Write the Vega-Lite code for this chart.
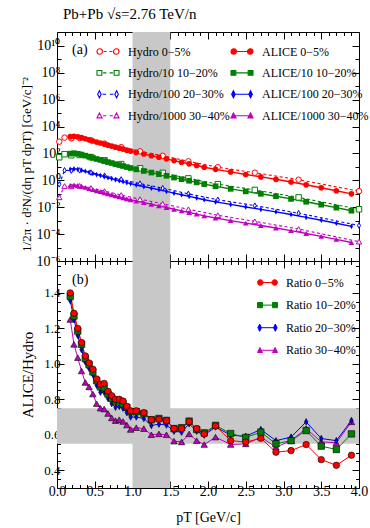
{
  "$schema": "https://vega.github.io/schema/vega-lite/v6.json",
  "padding": {"left": 20, "top": 6, "right": 11, "bottom": 4},
  "title": {"text": "Pb+Pb √s=2.76 TeV/n", "anchor": "start", "font": "Liberation Serif", "fontSize": 15, "fontWeight": "normal", "color": "black", "offset": 10, "dx": 43},
  "spacing": 0,
  "bounds": "flush",
  "datasets": {
    "alice": [
      {"pt":0.175,"c":"30-40%","y":0.427,"r":1.25},{"pt":0.225,"c":"30-40%","y":0.457,"r":1.11},{"pt":0.275,"c":"30-40%","y":0.417,"r":1.035},{"pt":0.325,"c":"30-40%","y":0.363,"r":0.96},{"pt":0.375,"c":"30-40%","y":0.302,"r":0.895},{"pt":0.425,"c":"30-40%","y":0.251,"r":0.87},{"pt":0.475,"c":"30-40%","y":0.204,"r":0.83},{"pt":0.525,"c":"30-40%","y":0.170,"r":0.775},{"pt":0.575,"c":"30-40%","y":0.145,"r":0.75},{"pt":0.625,"c":"30-40%","y":0.120,"r":0.745},
      {"pt":0.675,"c":"30-40%","y":0.100,"r":0.72},{"pt":0.725,"c":"30-40%","y":0.0851,"r":0.695},{"pt":0.775,"c":"30-40%","y":0.0708,"r":0.68},{"pt":0.825,"c":"30-40%","y":0.0603,"r":0.685},{"pt":0.875,"c":"30-40%","y":0.0513,"r":0.675},{"pt":0.925,"c":"30-40%","y":0.0427,"r":0.655},{"pt":0.975,"c":"30-40%","y":0.0363,"r":0.63},{"pt":1.05,"c":"30-40%","y":0.0288,"r":0.64},{"pt":1.15,"c":"30-40%","y":0.0219,"r":0.635},{"pt":1.25,"c":"30-40%","y":0.0166,"r":0.60},
      {"pt":1.35,"c":"30-40%","y":0.0126,"r":0.605},{"pt":1.45,"c":"30-40%","y":0.00955,"r":0.60},{"pt":1.55,"c":"30-40%","y":0.00708,"r":0.564},{"pt":1.65,"c":"30-40%","y":0.00537,"r":0.56},{"pt":1.75,"c":"30-40%","y":0.00407,"r":0.605},{"pt":1.85,"c":"30-40%","y":0.00309,"r":0.567},{"pt":1.95,"c":"30-40%","y":0.00229,"r":0.545},{"pt":2.1,"c":"30-40%","y":0.00158,"r":0.587},{"pt":2.3,"c":"30-40%","y":0.00102,"r":0.545},{"pt":2.5,"c":"30-40%","y":0.000661,"r":0.549},
      {"pt":2.7,"c":"30-40%","y":0.000437,"r":0.587},{"pt":2.9,"c":"30-40%","y":0.000288,"r":0.53},{"pt":3.1,"c":"30-40%","y":0.000182,"r":0.567},{"pt":3.3,"c":"30-40%","y":0.000112,"r":0.635},{"pt":3.5,"c":"30-40%","y":0.0000676,"r":0.56},{"pt":3.7,"c":"30-40%","y":0.0000407,"r":0.555},{"pt":3.9,"c":"30-40%","y":0.0000240,"r":0.673},

      {"pt":0.175,"c":"20-30%","y":6.76,"r":1.357},{"pt":0.225,"c":"20-30%","y":7.24,"r":1.25},{"pt":0.275,"c":"20-30%","y":6.61,"r":1.16},{"pt":0.325,"c":"20-30%","y":5.75,"r":1.08},{"pt":0.375,"c":"20-30%","y":4.79,"r":1.01},{"pt":0.425,"c":"20-30%","y":3.98,"r":0.975},{"pt":0.475,"c":"20-30%","y":3.24,"r":0.94},{"pt":0.525,"c":"20-30%","y":2.69,"r":0.88},{"pt":0.575,"c":"20-30%","y":2.29,"r":0.84},{"pt":0.625,"c":"20-30%","y":1.91,"r":0.84},
      {"pt":0.675,"c":"20-30%","y":1.58,"r":0.805},{"pt":0.725,"c":"20-30%","y":1.35,"r":0.775},{"pt":0.775,"c":"20-30%","y":1.12,"r":0.755},{"pt":0.825,"c":"20-30%","y":0.955,"r":0.76},{"pt":0.875,"c":"20-30%","y":0.813,"r":0.75},{"pt":0.925,"c":"20-30%","y":0.676,"r":0.725},{"pt":0.975,"c":"20-30%","y":0.575,"r":0.70},{"pt":1.05,"c":"20-30%","y":0.457,"r":0.70},{"pt":1.15,"c":"20-30%","y":0.347,"r":0.692},{"pt":1.25,"c":"20-30%","y":0.263,"r":0.652},
      {"pt":1.35,"c":"20-30%","y":0.200,"r":0.66},{"pt":1.45,"c":"20-30%","y":0.151,"r":0.655},{"pt":1.55,"c":"20-30%","y":0.112,"r":0.62},{"pt":1.65,"c":"20-30%","y":0.0851,"r":0.615},{"pt":1.75,"c":"20-30%","y":0.0646,"r":0.662},{"pt":1.85,"c":"20-30%","y":0.0490,"r":0.62},{"pt":1.95,"c":"20-30%","y":0.0363,"r":0.598},{"pt":2.1,"c":"20-30%","y":0.0251,"r":0.644},{"pt":2.3,"c":"20-30%","y":0.0162,"r":0.598},{"pt":2.5,"c":"20-30%","y":0.0105,"r":0.592},
      {"pt":2.7,"c":"20-30%","y":0.00692,"r":0.63},{"pt":2.9,"c":"20-30%","y":0.00457,"r":0.567},{"pt":3.1,"c":"20-30%","y":0.00288,"r":0.587},{"pt":3.3,"c":"20-30%","y":0.00178,"r":0.673},{"pt":3.5,"c":"20-30%","y":0.00107,"r":0.579},{"pt":3.7,"c":"20-30%","y":0.000646,"r":0.567},{"pt":3.9,"c":"20-30%","y":0.000380,"r":0.681},

      {"pt":0.175,"c":"10-20%","y":97.7,"r":1.38},{"pt":0.225,"c":"10-20%","y":105,"r":1.27},{"pt":0.275,"c":"10-20%","y":95.5,"r":1.185},{"pt":0.325,"c":"10-20%","y":83.2,"r":1.11},{"pt":0.375,"c":"10-20%","y":69.2,"r":1.03},{"pt":0.425,"c":"10-20%","y":57.5,"r":0.995},{"pt":0.475,"c":"10-20%","y":46.8,"r":0.955},{"pt":0.525,"c":"10-20%","y":38.9,"r":0.905},{"pt":0.575,"c":"10-20%","y":33.1,"r":0.87},{"pt":0.625,"c":"10-20%","y":27.5,"r":0.865},
      {"pt":0.675,"c":"10-20%","y":22.9,"r":0.83},{"pt":0.725,"c":"10-20%","y":19.5,"r":0.805},{"pt":0.775,"c":"10-20%","y":16.2,"r":0.79},{"pt":0.825,"c":"10-20%","y":13.8,"r":0.785},{"pt":0.875,"c":"10-20%","y":11.7,"r":0.775},{"pt":0.925,"c":"10-20%","y":9.77,"r":0.755},{"pt":0.975,"c":"10-20%","y":8.32,"r":0.73},{"pt":1.05,"c":"10-20%","y":6.61,"r":0.73},{"pt":1.15,"c":"10-20%","y":5.01,"r":0.72},{"pt":1.25,"c":"10-20%","y":3.80,"r":0.685},
      {"pt":1.35,"c":"10-20%","y":2.88,"r":0.692},{"pt":1.45,"c":"10-20%","y":2.19,"r":0.681},{"pt":1.55,"c":"10-20%","y":1.62,"r":0.635},{"pt":1.65,"c":"10-20%","y":1.23,"r":0.64},{"pt":1.75,"c":"10-20%","y":0.933,"r":0.677},{"pt":1.85,"c":"10-20%","y":0.708,"r":0.63},{"pt":1.95,"c":"10-20%","y":0.525,"r":0.611},{"pt":2.1,"c":"10-20%","y":0.363,"r":0.653},{"pt":2.3,"c":"10-20%","y":0.234,"r":0.607},{"pt":2.5,"c":"10-20%","y":0.151,"r":0.585},
      {"pt":2.7,"c":"10-20%","y":0.100,"r":0.615},{"pt":2.9,"c":"10-20%","y":0.0661,"r":0.549},{"pt":3.1,"c":"10-20%","y":0.0417,"r":0.567},{"pt":3.3,"c":"10-20%","y":0.0257,"r":0.624},{"pt":3.5,"c":"10-20%","y":0.0155,"r":0.536},{"pt":3.7,"c":"10-20%","y":0.00933,"r":0.517},{"pt":3.9,"c":"10-20%","y":0.00550,"r":0.605},

      {"pt":0.175,"c":"0-5%","y":1778,"r":1.40},{"pt":0.225,"c":"0-5%","y":1905,"r":1.285},{"pt":0.275,"c":"0-5%","y":1738,"r":1.20},{"pt":0.325,"c":"0-5%","y":1514,"r":1.12},{"pt":0.375,"c":"0-5%","y":1259,"r":1.045},{"pt":0.425,"c":"0-5%","y":1047,"r":1.005},{"pt":0.475,"c":"0-5%","y":851,"r":0.97},{"pt":0.525,"c":"0-5%","y":708,"r":0.915},{"pt":0.575,"c":"0-5%","y":603,"r":0.885},{"pt":0.625,"c":"0-5%","y":501,"r":0.89},
      {"pt":0.675,"c":"0-5%","y":417,"r":0.845},{"pt":0.725,"c":"0-5%","y":355,"r":0.82},{"pt":0.775,"c":"0-5%","y":295,"r":0.80},{"pt":0.825,"c":"0-5%","y":251,"r":0.80},{"pt":0.875,"c":"0-5%","y":214,"r":0.79},{"pt":0.925,"c":"0-5%","y":178,"r":0.76},{"pt":0.975,"c":"0-5%","y":151,"r":0.735},{"pt":1.05,"c":"0-5%","y":120,"r":0.735},{"pt":1.15,"c":"0-5%","y":91.2,"r":0.725},{"pt":1.25,"c":"0-5%","y":69.2,"r":0.685},
      {"pt":1.35,"c":"0-5%","y":52.5,"r":0.688},{"pt":1.45,"c":"0-5%","y":39.8,"r":0.68},{"pt":1.55,"c":"0-5%","y":29.5,"r":0.635},{"pt":1.65,"c":"0-5%","y":22.4,"r":0.635},{"pt":1.75,"c":"0-5%","y":17.0,"r":0.675},{"pt":1.85,"c":"0-5%","y":12.9,"r":0.635},{"pt":1.95,"c":"0-5%","y":9.55,"r":0.605},{"pt":2.1,"c":"0-5%","y":6.61,"r":0.65},{"pt":2.3,"c":"0-5%","y":4.27,"r":0.567},{"pt":2.5,"c":"0-5%","y":2.75,"r":0.559},
      {"pt":2.7,"c":"0-5%","y":1.82,"r":0.58},{"pt":2.9,"c":"0-5%","y":1.20,"r":0.502},{"pt":3.1,"c":"0-5%","y":0.759,"r":0.511},{"pt":3.3,"c":"0-5%","y":0.468,"r":0.545},{"pt":3.5,"c":"0-5%","y":0.282,"r":0.46},{"pt":3.7,"c":"0-5%","y":0.170,"r":0.428},{"pt":3.9,"c":"0-5%","y":0.100,"r":0.485}
    ],
    "hydro": [
      {"pt":0.03,"c":"30-40%","y":0.0550},{"pt":0.1,"c":"30-40%","y":0.380},{"pt":0.19,"c":"30-40%","y":0.363},{"pt":0.3,"c":"30-40%","y":0.389},{"pt":0.45,"c":"30-40%","y":0.269},{"pt":0.63,"c":"30-40%","y":0.158},{"pt":0.85,"c":"30-40%","y":0.0813},{"pt":1.1,"c":"30-40%","y":0.0398},{"pt":1.4,"c":"30-40%","y":0.0182},{"pt":1.74,"c":"30-40%","y":0.00708},{"pt":2.13,"c":"30-40%","y":0.00257},{"pt":2.62,"c":"30-40%","y":0.000891},{"pt":3.2,"c":"30-40%","y":0.000240},{"pt":4.0,"c":"30-40%","y":0.0000275},
      {"pt":0.03,"c":"20-30%","y":0.501},{"pt":0.1,"c":"20-30%","y":5.62},{"pt":0.19,"c":"20-30%","y":5.25},{"pt":0.3,"c":"20-30%","y":5.50},{"pt":0.45,"c":"20-30%","y":3.80},{"pt":0.63,"c":"20-30%","y":2.24},{"pt":0.85,"c":"20-30%","y":1.17},{"pt":1.1,"c":"20-30%","y":0.575},{"pt":1.4,"c":"20-30%","y":0.263},{"pt":1.74,"c":"20-30%","y":0.100},{"pt":2.13,"c":"20-30%","y":0.0363},{"pt":2.62,"c":"20-30%","y":0.0132},{"pt":3.2,"c":"20-30%","y":0.00363},{"pt":4.0,"c":"20-30%","y":0.000437},
      {"pt":0.03,"c":"10-20%","y":52.5},{"pt":0.1,"c":"10-20%","y":89.1},{"pt":0.19,"c":"10-20%","y":74.1},{"pt":0.3,"c":"10-20%","y":77.6},{"pt":0.45,"c":"10-20%","y":53.7},{"pt":0.63,"c":"10-20%","y":30.9},{"pt":0.85,"c":"10-20%","y":16.2},{"pt":1.1,"c":"10-20%","y":7.94},{"pt":1.4,"c":"10-20%","y":3.63},{"pt":1.74,"c":"10-20%","y":1.41},{"pt":2.13,"c":"10-20%","y":0.525},{"pt":2.62,"c":"10-20%","y":0.195},{"pt":3.2,"c":"10-20%","y":0.0537},{"pt":4.0,"c":"10-20%","y":0.00708},
      {"pt":0.03,"c":"0-5%","y":759},{"pt":0.1,"c":"0-5%","y":1514},{"pt":0.19,"c":"0-5%","y":1349},{"pt":0.3,"c":"0-5%","y":1413},{"pt":0.45,"c":"0-5%","y":955},{"pt":0.63,"c":"0-5%","y":550},{"pt":0.85,"c":"0-5%","y":295},{"pt":1.1,"c":"0-5%","y":145},{"pt":1.4,"c":"0-5%","y":67.6},{"pt":1.74,"c":"0-5%","y":26.3},{"pt":2.13,"c":"0-5%","y":9.55},{"pt":2.62,"c":"0-5%","y":3.72},{"pt":3.2,"c":"0-5%","y":1.12},{"pt":4.0,"c":"0-5%","y":0.158}
    ]
  },
  "vconcat": [
    {
      "width": 302,
      "height": 229,
      "layer": [
        {
          "data": {"values": [{"a": 1.0, "b": 1.5}]},
          "mark": {"type": "rect", "color": "#c8c8c8"},
          "encoding": {
            "x": {"field": "a", "type": "quantitative", "scale": {"domain": [0, 4], "nice": false}, "axis": null},
            "x2": {"field": "b"}
          }
        },
        {
          "data": {"name": "hydro"},
          "mark": {"type": "line", "strokeDash": [3, 2.5], "strokeWidth": 1.1},
          "encoding": {
            "x": {"field": "pt", "type": "quantitative", "scale": {"domain": [0, 4], "nice": false},
              "axis": {"orient": "top", "labels": false, "title": null, "values": [0,0.1,0.2,0.3,0.4,0.5,0.6,0.7,0.8,0.9,1,1.1,1.2,1.3,1.4,1.5,1.6,1.7,1.8,1.9,2,2.1,2.2,2.3,2.4,2.5,2.6,2.7,2.8,2.9,3,3.1,3.2,3.3,3.4,3.5,3.6,3.7,3.8,3.9,4],
                "tickSize": {"condition": {"test": "abs(datum.value*2-round(datum.value*2))<0.01", "value": -7}, "value": -3.5}}},
            "y": {"field": "y", "type": "quantitative", "scale": {"type": "log", "domain": [0.000001, 110000000000], "nice": false},
              "axis": {"orient": "right", "labels": false, "title": null, "values": [0.000001,0.00001,0.0001,0.001,0.01,0.1,1,10,100,1000,10000,100000,1000000,10000000,100000000,1000000000,10000000000],
                "tickSize": {"condition": {"test": "round(log(datum.value)/LN10)%2==0", "value": -7}, "value": -4}}},
            "color": {"field": "c", "type": "nominal", "scale": {"domain": ["0-5%", "10-20%", "20-30%", "30-40%"], "range": ["#ff0000", "#008000", "#0000ff", "#c000c0"]}, "legend": null}
          }
        },
        {
          "data": {"name": "alice"},
          "mark": {"type": "line", "strokeWidth": 1.4},
          "encoding": {
            "x": {"field": "pt", "type": "quantitative", "scale": {"domain": [0, 4], "nice": false},
              "axis": {"orient": "bottom", "labels": false, "title": null, "values": [0,0.1,0.2,0.3,0.4,0.5,0.6,0.7,0.8,0.9,1,1.1,1.2,1.3,1.4,1.5,1.6,1.7,1.8,1.9,2,2.1,2.2,2.3,2.4,2.5,2.6,2.7,2.8,2.9,3,3.1,3.2,3.3,3.4,3.5,3.6,3.7,3.8,3.9,4],
                "tickSize": {"condition": {"test": "abs(datum.value*2-round(datum.value*2))<0.01", "value": -7}, "value": -3.5}}},
            "y": {"field": "y", "type": "quantitative", "scale": {"type": "log", "domain": [0.000001, 110000000000], "nice": false},
              "axis": {"orient": "left", "title": "1/2π · d²N/(dη pT dpT) [GeV/c]⁻²", "titleFontSize": 13, "titleX": -24, "titleY": 132, "labelFontSize": 14, "labelPadding": 4,
                "values": [0.000001,0.00001,0.0001,0.001,0.01,0.1,1,10,100,1000,10000,100000,1000000,10000000,100000000,1000000000,10000000000],
                "labelExpr": "['10⁻⁶','','10⁻⁴','','10⁻²','','10⁰','','10²','','10⁴','','10⁶','','10⁸','','10¹⁰'][round(log(datum.value)/LN10)+6]",
                "tickSize": {"condition": {"test": "round(log(datum.value)/LN10)%2==0", "value": -7}, "value": -4}}},
            "color": {"field": "c", "type": "nominal", "scale": {"domain": ["0-5%", "10-20%", "20-30%", "30-40%"], "range": ["#ff0000", "#008000", "#0000ff", "#c000c0"]}, "legend": null}
          }
        },
        {
          "data": {"name": "hydro"},
          "mark": {"type": "point", "filled": false, "fill": "white", "opacity": 1, "size": 30, "strokeWidth": 1},
          "encoding": {
            "x": {"field": "pt", "type": "quantitative", "axis": null},
            "y": {"field": "y", "type": "quantitative", "axis": null},
            "color": {"field": "c", "type": "nominal", "legend": null},
            "shape": {"field": "c", "type": "nominal", "scale": {"domain": ["0-5%", "10-20%", "20-30%", "30-40%"], "range": ["circle", "square", "M0,-1L0.55,0L0,1L-0.55,0Z", "triangle-up"]}, "legend": null}
          }
        },
        {
          "data": {"name": "alice"},
          "mark": {"type": "point", "filled": true, "opacity": 1, "size": 32},
          "encoding": {
            "x": {"field": "pt", "type": "quantitative", "axis": null},
            "y": {"field": "y", "type": "quantitative", "axis": null},
            "color": {"field": "c", "type": "nominal", "legend": null},
            "shape": {"field": "c", "type": "nominal", "scale": {"domain": ["0-5%", "10-20%", "20-30%", "30-40%"], "range": ["circle", "square", "M0,-1L0.55,0L0,1L-0.55,0Z", "triangle-up"]}, "legend": null}
          }
        },
        {
          "data": {"values": [{"x": 0.2, "y": 5000000000, "t": "(a)"}]},
          "mark": {"type": "text", "align": "left", "baseline": "middle", "font": "Liberation Serif", "fontSize": 14, "color": "black"},
          "encoding": {
            "x": {"field": "x", "type": "quantitative", "axis": null},
            "y": {"field": "y", "type": "quantitative", "axis": null},
            "text": {"field": "t"}
          }
        },
        {
          "data": {"name": "alice"},
          "transform": [{"filter": "false"}],
          "mark": {"type": "point", "filled": true, "opacity": 1, "strokeWidth": 1.1},
          "encoding": {
            "shape": {"field": "series", "type": "nominal",
              "scale": {"domain": ["Hydro 0−5%", "Hydro/10 10−20%", "Hydro/100 20−30%", "Hydro/1000 30−40%", "ALICE 0−5%", "ALICE/10 10−20%", "ALICE/100 20−30%", "ALICE/1000 30−40%"],
                "range": [
                  "M-0.5,0A0.25,0.25,0,1,1,-1,0A0.25,0.25,0,1,1,-0.5,0ZM-0.4,0L-0.13,0M0.13,0L0.4,0M1,0A0.25,0.25,0,1,1,0.5,0A0.25,0.25,0,1,1,1,0Z",
                  "M-1,-0.22H-0.56V0.22H-1ZM-0.45,0L-0.15,0M0.15,0L0.45,0M0.56,-0.22H1V0.22H0.56Z",
                  "M-0.78,-0.32L-0.62,0L-0.78,0.32L-0.94,0ZM-0.5,0L-0.17,0M0.17,0L0.5,0M0.78,-0.32L0.94,0L0.78,0.32L0.62,0Z",
                  "M-0.78,-0.24L-0.54,0.2L-1,0.2ZM-0.45,0L-0.15,0M0.15,0L0.45,0M0.78,-0.24L1,0.2L0.54,0.2Z",
                  "M-0.5,0A0.25,0.25,0,1,1,-1,0A0.25,0.25,0,1,1,-0.5,0ZM-0.5,0L0.5,0M1,0A0.25,0.25,0,1,1,0.5,0A0.25,0.25,0,1,1,1,0Z",
                  "M-1,-0.22H-0.56V0.22H-1ZM-0.56,0L0.56,0M0.56,-0.22H1V0.22H0.56Z",
                  "M-0.78,-0.32L-0.62,0L-0.78,0.32L-0.94,0ZM-0.62,0L0.62,0M0.78,-0.32L0.94,0L0.78,0.32L0.62,0Z",
                  "M-0.78,-0.24L-0.54,0.2L-1,0.2ZM-0.6,0L0.6,0M0.78,-0.24L1,0.2L0.54,0.2Z"
                ]},
              "legend": {"orient": "none", "legendX": 39, "legendY": 7.5, "columns": 2, "title": null, "symbolSize": 484, "symbolStrokeWidth": 1.1, "rowPadding": 3.4, "columnPadding": -5, "labelOffset": 8, "labelFontSize": 12, "labelLimit": 300}},
            "stroke": {"field": "series", "type": "nominal",
              "scale": {"domain": ["Hydro 0−5%", "Hydro/10 10−20%", "Hydro/100 20−30%", "Hydro/1000 30−40%", "ALICE 0−5%", "ALICE/10 10−20%", "ALICE/100 20−30%", "ALICE/1000 30−40%"],
                "range": ["#ff0000", "#008000", "#0000ff", "#c000c0", "#ff0000", "#008000", "#0000ff", "#c000c0"]}},
            "fill": {"field": "series", "type": "nominal",
              "scale": {"domain": ["Hydro 0−5%", "Hydro/10 10−20%", "Hydro/100 20−30%", "Hydro/1000 30−40%", "ALICE 0−5%", "ALICE/10 10−20%", "ALICE/100 20−30%", "ALICE/1000 30−40%"],
                "range": ["#ffffff", "#ffffff", "#ffffff", "#ffffff", "#ff0000", "#008000", "#0000ff", "#c000c0"]}}
          }
        }
      ],
      "resolve": {"scale": {"shape": "independent", "stroke": "independent", "fill": "independent"}}
    },
    {
      "width": 302,
      "height": 227,
      "layer": [
        {
          "data": {"values": [{"a": 1.0, "b": 1.5}]},
          "mark": {"type": "rect", "color": "#c8c8c8"},
          "encoding": {
            "x": {"field": "a", "type": "quantitative", "scale": {"domain": [0, 4], "nice": false}, "axis": null},
            "x2": {"field": "b"}
          }
        },
        {
          "data": {"values": [{"a": 0.55, "b": 0.75}]},
          "mark": {"type": "rect", "color": "#c8c8c8"},
          "encoding": {
            "y": {"field": "a", "type": "quantitative", "scale": {"domain": [0.3, 1.58], "nice": false}, "axis": null},
            "y2": {"field": "b"}
          }
        },
        {
          "data": {"name": "alice"},
          "mark": {"type": "line", "strokeWidth": 1},
          "encoding": {
            "x": {"field": "pt", "type": "quantitative", "scale": {"domain": [0, 4], "nice": false},
              "axis": {"orient": "bottom", "title": "pT [GeV/c]", "titleFontSize": 14, "labelFontSize": 14, "labelPadding": 3, "titlePadding": 12, "labelFlush": false,
                "values": [0,0.1,0.2,0.3,0.4,0.5,0.6,0.7,0.8,0.9,1,1.1,1.2,1.3,1.4,1.5,1.6,1.7,1.8,1.9,2,2.1,2.2,2.3,2.4,2.5,2.6,2.7,2.8,2.9,3,3.1,3.2,3.3,3.4,3.5,3.6,3.7,3.8,3.9,4],
                "labelExpr": "abs(datum.value*2-round(datum.value*2))<0.01 ? format(datum.value, '.1f') : ''",
                "tickSize": {"condition": {"test": "abs(datum.value*2-round(datum.value*2))<0.01", "value": -7}, "value": -3.5}}},
            "y": {"field": "r", "type": "quantitative", "scale": {"domain": [0.3, 1.58], "nice": false},
              "axis": {"orient": "left", "title": "ALICE/Hydro", "titleFontSize": 15, "titleX": -22, "labelFontSize": 13, "labelPadding": 4,
                "values": [0.35,0.4,0.45,0.5,0.55,0.6,0.65,0.7,0.75,0.8,0.85,0.9,0.95,1,1.05,1.1,1.15,1.2,1.25,1.3,1.35,1.4,1.45,1.5,1.55],
                "labelExpr": "abs(datum.value*5-round(datum.value*5))<0.01 ? format(datum.value, '.1f') : ''",
                "tickSize": {"condition": {"test": "abs(datum.value*5-round(datum.value*5))<0.01", "value": -7}, "value": -3.5}}},
            "color": {"field": "c", "type": "nominal", "scale": {"domain": ["0-5%", "10-20%", "20-30%", "30-40%"], "range": ["#ff0000", "#008000", "#0000ff", "#c000c0"]}, "legend": null}
          }
        },
        {
          "data": {"name": "alice"},
          "mark": {"type": "point", "filled": true, "opacity": 1, "size": 42, "stroke": "black", "strokeWidth": 0.6},
          "encoding": {
            "x": {"field": "pt", "type": "quantitative",
              "axis": {"orient": "top", "labels": false, "title": null,
                "values": [0,0.1,0.2,0.3,0.4,0.5,0.6,0.7,0.8,0.9,1,1.1,1.2,1.3,1.4,1.5,1.6,1.7,1.8,1.9,2,2.1,2.2,2.3,2.4,2.5,2.6,2.7,2.8,2.9,3,3.1,3.2,3.3,3.4,3.5,3.6,3.7,3.8,3.9,4],
                "tickSize": {"condition": {"test": "abs(datum.value*2-round(datum.value*2))<0.01", "value": -7}, "value": -3.5}}},
            "y": {"field": "r", "type": "quantitative",
              "axis": {"orient": "right", "labels": false, "title": null,
                "values": [0.35,0.4,0.45,0.5,0.55,0.6,0.65,0.7,0.75,0.8,0.85,0.9,0.95,1,1.05,1.1,1.15,1.2,1.25,1.3,1.35,1.4,1.45,1.5,1.55],
                "tickSize": {"condition": {"test": "abs(datum.value*5-round(datum.value*5))<0.01", "value": -7}, "value": -3.5}}},
            "color": {"field": "c", "type": "nominal", "legend": null},
            "shape": {"field": "c", "type": "nominal", "scale": {"domain": ["0-5%", "10-20%", "20-30%", "30-40%"], "range": ["circle", "square", "M0,-1L0.55,0L0,1L-0.55,0Z", "triangle-up"]}, "legend": null}
          }
        },
        {
          "data": {"values": [{"x": 0.2, "y": 1.475, "t": "(b)"}]},
          "mark": {"type": "text", "align": "left", "baseline": "middle", "font": "Liberation Serif", "fontSize": 14, "color": "black"},
          "encoding": {
            "x": {"field": "x", "type": "quantitative", "axis": null},
            "y": {"field": "y", "type": "quantitative", "axis": null},
            "text": {"field": "t"}
          }
        },
        {
          "data": {"name": "alice"},
          "transform": [{"filter": "false"}],
          "mark": {"type": "point", "filled": true, "opacity": 1, "strokeWidth": 1},
          "encoding": {
            "shape": {"field": "series", "type": "nominal",
              "scale": {"domain": ["Ratio 0−5%", "Ratio 10−20%", "Ratio 20−30%", "Ratio 30−40%"],
                "range": [
                  "M-0.44,0A0.28,0.28,0,1,1,-1,0A0.28,0.28,0,1,1,-0.44,0ZM-0.44,0L0.44,0M1,0A0.28,0.28,0,1,1,0.44,0A0.28,0.28,0,1,1,1,0Z",
                  "M-1,-0.26H-0.5V0.26H-1ZM-0.5,0L0.5,0M0.5,-0.26H1V0.26H0.5Z",
                  "M-0.78,-0.36L-0.6,0L-0.78,0.36L-0.96,0ZM-0.6,0L0.6,0M0.78,-0.36L0.96,0L0.78,0.36L0.6,0Z",
                  "M-0.76,-0.28L-0.5,0.22L-1,0.22ZM-0.6,0L0.6,0M0.76,-0.28L1,0.22L0.5,0.22Z"
                ]},
              "legend": {"orient": "none", "legendX": 200, "legendY": 11, "title": null, "symbolSize": 400, "symbolStrokeWidth": 1, "rowPadding": 5.6, "labelOffset": 8, "labelFontSize": 12, "labelLimit": 300}},
            "stroke": {"field": "series", "type": "nominal",
              "scale": {"domain": ["Ratio 0−5%", "Ratio 10−20%", "Ratio 20−30%", "Ratio 30−40%"], "range": ["#ff0000", "#008000", "#0000ff", "#c000c0"]}},
            "fill": {"field": "series", "type": "nominal",
              "scale": {"domain": ["Ratio 0−5%", "Ratio 10−20%", "Ratio 20−30%", "Ratio 30−40%"], "range": ["#ff0000", "#008000", "#0000ff", "#c000c0"]}}
          }
        }
      ],
      "resolve": {"scale": {"shape": "independent", "stroke": "independent", "fill": "independent"}}
    }
  ],
  "config": {
    "view": {"stroke": null},
    "font": "Liberation Serif",
    "axis": {"labelFont": "Liberation Serif", "titleFont": "Liberation Serif", "labelFontSize": 14, "titleFontSize": 14, "titleFontWeight": "normal", "labelColor": "black", "titleColor": "black", "domainColor": "black", "tickColor": "black", "domainWidth": 1, "tickWidth": 1, "grid": false},
    "legend": {"labelFont": "Liberation Serif", "labelFontSize": 12, "labelColor": "black"}
  }
}
